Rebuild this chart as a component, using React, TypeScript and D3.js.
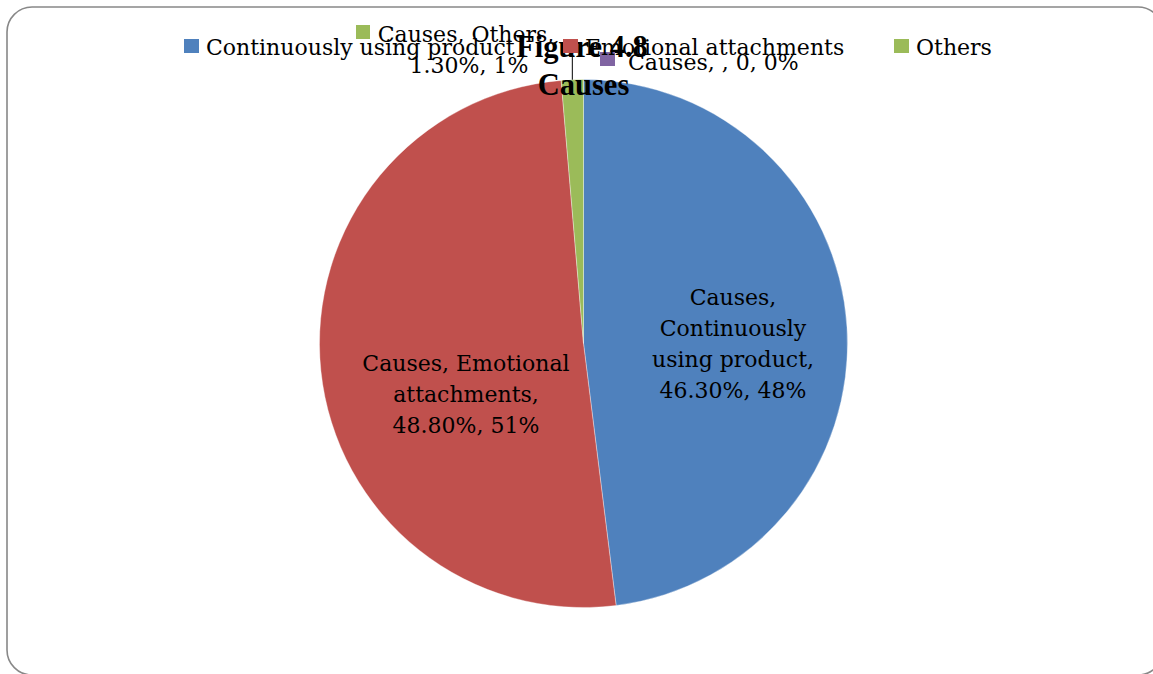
import React from "react";
import * as d3 from "d3";

// ---- data ----
const seriesName = "Causes";
const categories = ["Continuously using product", "Emotional attachments", "Others", ""];
const values = [46.3, 48.8, 1.3, 0];
const colors = ["#4F81BD", "#C0504D", "#9BBB59", "#8064A2"];
const titleLines = ["Figure 4.8", "Causes"];

// ---- layout ----
const W = 1153;
const H = 674;
const cx = 583.5;
const cy = 343.5;
const R = 264;
const FONT = "'DejaVu Serif', serif";
const FS = 22;
const LH = 31;

const measureCtx = (() => {
  const c = document.createElement("canvas");
  const ctx = c.getContext("2d")!;
  ctx.font = `${FS}px ${FONT}`;
  return ctx;
})();

function wrap(text: string, maxW: number): string[] {
  const words = text.split(" ");
  const lines: string[] = [];
  let cur = "";
  for (const w of words) {
    const t = cur ? cur + " " + w : w;
    if (cur && measureCtx.measureText(t).width > maxW) {
      lines.push(cur);
      cur = w;
    } else cur = t;
  }
  if (cur) lines.push(cur);
  return lines;
}

export default function App() {
  const total = d3.sum(values);
  const pie = d3
    .pie<number>()
    .sort(null)
    .value((d) => d)
    .startAngle(0)
    .endAngle(2 * Math.PI);
  const arcs = pie(values);
  const arc = d3.arc<d3.PieArcDatum<number>>().innerRadius(0).outerRadius(R);

  const labelText = values.map(
    (v, i) => `${seriesName}, ${categories[i]}, ${v === 0 ? "0" : v.toFixed(2) + "%"}, ${Math.round((v / total) * 100)}%`
  );

  // label anchor offsets relative to the pie center (middle of text block)
  const inside = [
    { i: 0, dx: 149.5, midBase: 8, wrapW: 175 },
    { i: 1, dx: -117.5, midBase: 58.5, wrapW: 225 },
  ];

  const greenMid = (arcs[2].startAngle + arcs[2].endAngle) / 2;
  const gx = cx + R * Math.sin(greenMid);
  const gy = cy - R * Math.cos(greenMid);

  const legendX = [184, 563, 894];

  return (
    <svg
      width={W}
      height={H}
      style={{ position: "absolute", left: 0, top: 0, background: "#fff" }}
      fontFamily={FONT}
    >
      <rect x={7} y={7} width={1156} height={668} rx={25} ry={25} fill="#fff" stroke="#888" strokeWidth={1.6} />
      <g transform={`translate(${cx},${cy})`}>
        {arcs.map((a, i) =>
          a.value > 0 ? (
            <path key={i} d={arc(a) || ""} fill={colors[i]} stroke="#fff" strokeOpacity={0.35} strokeWidth={1} />
          ) : null
        )}
      </g>

      {/* title */}
      <g fontFamily="'Liberation Serif', serif" fontWeight="bold" fontSize={30.5} textAnchor="middle">
        <text x={cx - 1.5} y={57}>{titleLines[0]}</text>
        <text x={cx} y={95}>{titleLines[1]}</text>
      </g>

      {/* inside labels */}
      {inside.map(({ i, dx, midBase, wrapW }) => {
        const lines = wrap(labelText[i], wrapW);
        const first = cy + midBase - ((lines.length - 1) * LH) / 2;
        return (
          <text key={i} fontSize={FS} textAnchor="middle" fill="#000">
            {lines.map((l, k) => (
              <tspan key={k} x={cx + dx} y={first + k * LH}>
                {l}
              </tspan>
            ))}
          </text>
        );
      })}

      {/* outside label: Others */}
      <line x1={gx} y1={55} x2={gx} y2={gy} stroke="#000" strokeWidth={1} />
      {(() => {
        const lines = wrap(labelText[2], 180);
        return (
          <g>
            <rect x={356} y={25} width={14} height={14} fill={colors[2]} />
            <text fontSize={FS} textAnchor="middle">
              {lines.map((l, k) => (
                <tspan key={k} x={k === 0 ? 466 : 469} y={42 + k * LH}>
                  {l}
                </tspan>
              ))}
            </text>
          </g>
        );
      })()}

      {/* outside label: empty category */}
      <rect x={600} y={52} width={15} height={14} fill={colors[3]} />
      <text x={628} y={70} fontSize={FS}>
        {labelText[3]}
      </text>

      {/* legend */}
      {categories.slice(0, 3).map((c, i) => (
        <g key={i}>
          <rect x={legendX[i]} y={39} width={15} height={14} fill={colors[i]} />
          <text x={legendX[i] + 22} y={55} fontSize={FS}>
            {c}
          </text>
        </g>
      ))}
    </svg>
  );
}
